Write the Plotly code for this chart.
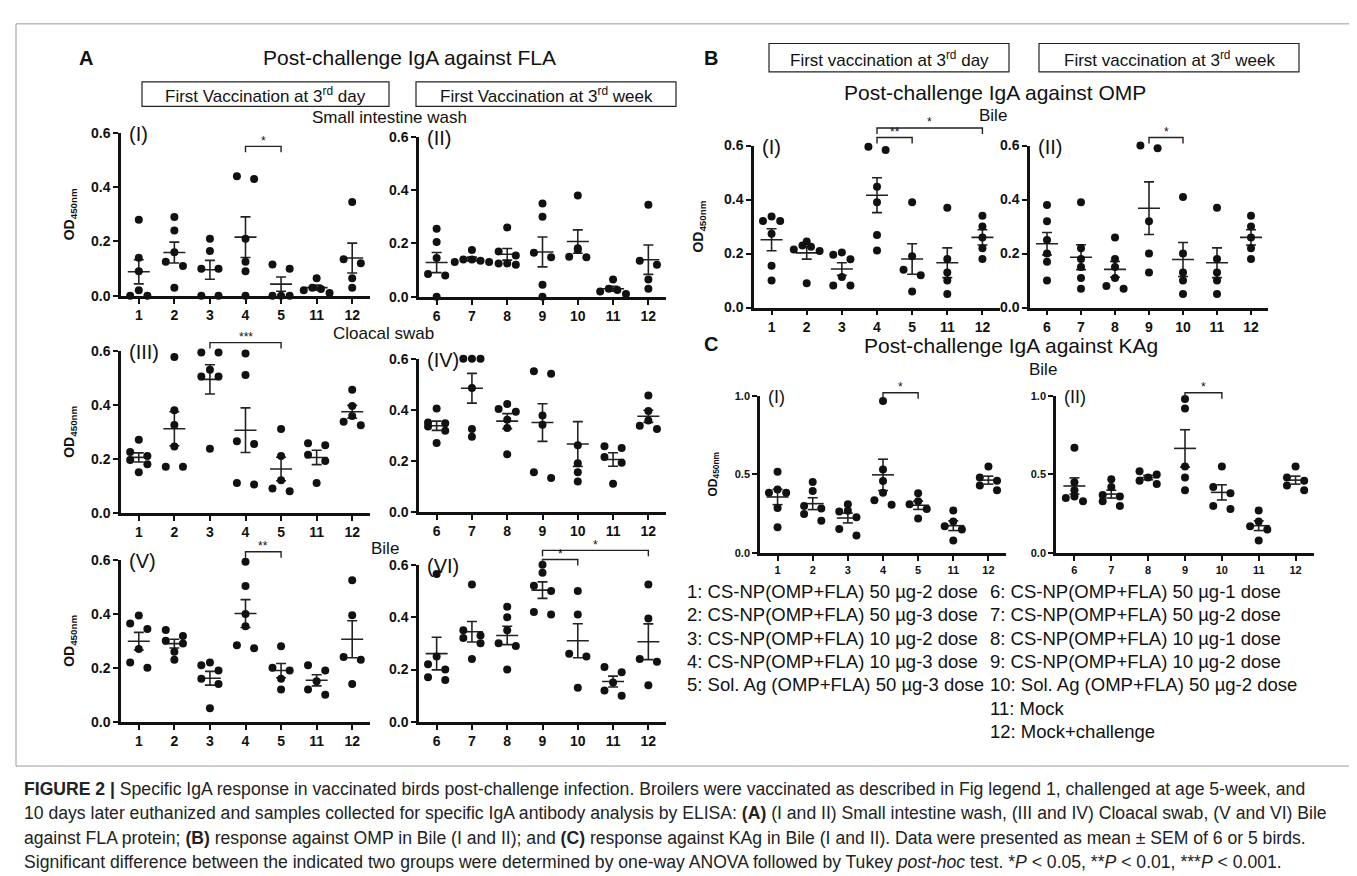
import numpy as np
import plotly.graph_objects as go

W, H = 1357, 876
FONT = "Arial, 'Liberation Sans', Helvetica, sans-serif"

# ---------------- data ----------------
GROUPS_DAY3 = ["1", "2", "3", "4", "5", "11", "12"]
GROUPS_WEEK3 = ["6", "7", "8", "9", "10", "11", "12"]

# Panel A - IgA against FLA, small intestine wash
SI_11 = [0.065, 0.03, 0.025, 0.02, 0.01]
SI_12 = [0.345, 0.135, 0.12, 0.065, 0.03]
SI_DAY3 = [
    [0.28, 0.14, 0.09, 0.02, 0.0, 0.0],
    [0.29, 0.24, 0.16, 0.125, 0.11, 0.03],
    [0.21, 0.165, 0.10, 0.10, 0.0, 0.0],
    [0.44, 0.43, 0.21, 0.125, 0.09, 0.0],
    [0.115, 0.10, 0.0, 0.0, 0.0],
    SI_11, SI_12]
SI_WEEK3 = [
    [0.255, 0.205, 0.145, 0.085, 0.08, 0.0],
    [0.175, 0.14, 0.14, 0.135, 0.13, 0.13],
    [0.26, 0.17, 0.155, 0.125, 0.125, 0.12],
    [0.35, 0.30, 0.165, 0.148, 0.045, 0.0],
    [0.38, 0.182, 0.175, 0.15, 0.148],
    SI_11, SI_12]

# Panel A - cloacal swab
CS_11 = [0.257, 0.25, 0.215, 0.192, 0.11]
CS_12 = [0.456, 0.395, 0.358, 0.337, 0.324]
CS_DAY3 = [
    [0.27, 0.225, 0.21, 0.195, 0.18, 0.15],
    [0.577, 0.38, 0.325, 0.245, 0.17, 0.17],
    [0.594, 0.594, 0.53, 0.505, 0.505, 0.237],
    [0.59, 0.51, 0.265, 0.255, 0.11, 0.105],
    [0.31, 0.21, 0.12, 0.09, 0.08],
    CS_11, CS_12]
CS_WEEK3 = [
    [0.405, 0.35, 0.347, 0.334, 0.317, 0.269],
    [0.6, 0.6, 0.6, 0.485, 0.324, 0.294],
    [0.422, 0.403, 0.392, 0.361, 0.328, 0.225],
    [0.551, 0.541, 0.377, 0.341, 0.155, 0.132],
    [0.603, 0.261, 0.19, 0.155, 0.119],
    CS_11, CS_12]

# Panel A - bile
BI_11 = [0.21, 0.19, 0.15, 0.12, 0.10]
BI_12 = [0.525, 0.395, 0.24, 0.23, 0.14]
BI_DAY3 = [
    [0.394, 0.364, 0.344, 0.27, 0.22, 0.20],
    [0.34, 0.318, 0.30, 0.29, 0.26, 0.23],
    [0.22, 0.21, 0.19, 0.16, 0.14, 0.05],
    [0.593, 0.503, 0.40, 0.354, 0.284, 0.273],
    [0.28, 0.20, 0.19, 0.16, 0.12],
    BI_11, BI_12]
BI_WEEK3 = [
    [0.565, 0.25, 0.22, 0.20, 0.17, 0.16],
    [0.525, 0.35, 0.33, 0.32, 0.30, 0.24],
    [0.44, 0.40, 0.35, 0.30, 0.29, 0.20],
    [0.60, 0.57, 0.52, 0.50, 0.42, 0.41],
    [0.50, 0.41, 0.26, 0.25, 0.13],
    BI_11, BI_12]

# Panel B - IgA against OMP, bile
OMP_11 = [0.37, 0.18, 0.13, 0.10, 0.05]
OMP_12 = [0.34, 0.30, 0.26, 0.22, 0.18]
OMP_DAY3 = [
    [0.337, 0.321, 0.321, 0.273, 0.155, 0.10],
    [0.245, 0.23, 0.225, 0.215, 0.21, 0.09],
    [0.204, 0.196, 0.179, 0.113, 0.082, 0.082],
    [0.596, 0.584, 0.448, 0.39, 0.269, 0.211],
    [0.39, 0.19, 0.14, 0.12, 0.06],
    OMP_11, OMP_12]
OMP_WEEK3 = [
    [0.38, 0.32, 0.25, 0.20, 0.17, 0.10],
    [0.39, 0.22, 0.18, 0.15, 0.11, 0.07],
    [0.26, 0.18, 0.15, 0.11, 0.08, 0.07],
    [0.60, 0.59, 0.32, 0.20, 0.13],
    [0.41, 0.20, 0.13, 0.10, 0.05],
    OMP_11, OMP_12]

# Panel C - IgA against KAg, bile
KAG_11 = [0.27, 0.20, 0.17, 0.15, 0.08]
KAG_12 = [0.55, 0.48, 0.46, 0.43, 0.40]
KAG_DAY3 = [
    [0.517, 0.405, 0.384, 0.384, 0.286, 0.164],
    [0.452, 0.395, 0.30, 0.284, 0.248, 0.206],
    [0.311, 0.269, 0.265, 0.227, 0.153, 0.111],
    [0.968, 0.532, 0.458, 0.384, 0.336, 0.307],
    [0.38, 0.33, 0.31, 0.28, 0.22],
    KAG_11, KAG_12]
KAG_WEEK3 = [
    [0.67, 0.45, 0.40, 0.36, 0.35, 0.33],
    [0.47, 0.42, 0.37, 0.36, 0.33, 0.30],
    [0.52, 0.50, 0.48, 0.46, 0.44],
    [0.98, 0.92, 0.55, 0.48, 0.40],
    [0.55, 0.42, 0.38, 0.30, 0.28],
    KAG_11, KAG_12]

LEGEND_LEFT = ["1: CS-NP(OMP+FLA) 50 µg-2 dose", "2: CS-NP(OMP+FLA) 50 µg-3 dose",
               "3: CS-NP(OMP+FLA) 10 µg-2 dose", "4: CS-NP(OMP+FLA) 10 µg-3 dose",
               "5: Sol. Ag (OMP+FLA) 50 µg-3 dose"]
LEGEND_RIGHT = ["6: CS-NP(OMP+FLA) 50 µg-1 dose", "7: CS-NP(OMP+FLA) 50 µg-2 dose",
                "8: CS-NP(OMP+FLA) 10 µg-1 dose", "9: CS-NP(OMP+FLA) 10 µg-2 dose",
                "10: Sol. Ag (OMP+FLA) 50 µg-2 dose", "11: Mock", "12: Mock+challenge"]

CAPTION = [
    "<b>FIGURE 2 |</b> Specific IgA response in vaccinated birds post-challenge infection. Broilers were vaccinated as described in Fig legend 1, challenged at age 5-week, and",
    "10 days later euthanized and samples collected for specific IgA antibody analysis by ELISA: <b>(A)</b> (I and II) Small intestine wash, (III and IV) Cloacal swab, (V and VI) Bile",
    "against FLA protein; <b>(B)</b> response against OMP in Bile (I and II); and <b>(C)</b> response against KAg in Bile (I and II). Data were presented as mean ± SEM of 6 or 5 birds.",
    "Significant difference between the indicated two groups were determined by one-way ANOVA followed by Tukey <i>post-hoc</i> test. *<i>P</i> &lt; 0.05, **<i>P</i> &lt; 0.01, ***<i>P</i> &lt; 0.001.",
]

# ---------------- layout of sub-panels (pixel boxes) ----------------
panels = [
    dict(cats=GROUPS_DAY3, data=SI_DAY3, x0=113, x1=362, yt=119, yb=285, top=0.6,
         yt_vals=[0, 0.2, 0.4, 0.6], roman="(I)", fs=14, odx=62, br=[("4", "5", 0.55, "*")]),
    dict(cats=GROUPS_WEEK3, data=SI_WEEK3, x0=411, x1=658, yt=123, yb=286, top=0.6,
         yt_vals=[0, 0.2, 0.4, 0.6], roman="(II)", fs=14, odx=None, br=[]),
    dict(cats=GROUPS_DAY3, data=CS_DAY3, x0=113, x1=362, yt=341, yb=506, top=0.6,
         yt_vals=[0, 0.2, 0.4, 0.6], roman="(III)", fs=14, odx=62, br=[("3", "5", 0.63, "***")]),
    dict(cats=GROUPS_WEEK3, data=CS_WEEK3, x0=411, x1=658, yt=349, yb=505, top=0.6,
         yt_vals=[0, 0.2, 0.4, 0.6], roman="(IV)", fs=14, odx=None, br=[]),
    dict(cats=GROUPS_DAY3, data=BI_DAY3, x0=113, x1=362, yt=554, yb=719, top=0.6,
         yt_vals=[0, 0.2, 0.4, 0.6], roman="(V)", fs=14, odx=62, br=[("4", "5", 0.63, "**")]),
    dict(cats=GROUPS_WEEK3, data=BI_WEEK3, x0=411, x1=658, yt=559, yb=719, top=0.6,
         yt_vals=[0, 0.2, 0.4, 0.6], roman="(VI)", fs=14, odx=None,
         br=[("9", "10", 0.62, "*"), ("9", "12", 0.655, "*")]),
    dict(cats=GROUPS_DAY3, data=OMP_DAY3, x0=746, x1=992, yt=132, yb=297, top=0.6,
         yt_vals=[0, 0.2, 0.4, 0.6], roman="(I)", fs=14, odx=691,
         br=[("4", "5", 0.63, "**"), ("4", "12", 0.665, "*")]),
    dict(cats=GROUPS_WEEK3, data=OMP_WEEK3, x0=1022, x1=1260, yt=132, yb=297, top=0.6,
         yt_vals=[0, 0.2, 0.4, 0.6], roman="(II)", fs=14, odx=None, br=[("9", "10", 0.63, "*")]),
    dict(cats=GROUPS_DAY3, data=KAG_DAY3, x0=752, x1=998, yt=387, yb=547, top=1.0,
         yt_vals=[0, 0.5, 1.0], roman="(I)", fs=11, odx=706, br=[("4", "5", 1.02, "*")]),
    dict(cats=GROUPS_WEEK3, data=KAG_WEEK3, x0=1048, x1=1306, yt=387, yb=547, top=1.0,
         yt_vals=[0, 0.5, 1.0], roman="(II)", fs=11, odx=None, br=[("9", "10", 1.02, "*")]),
]


def swarm(vals, ppu, d=7.5, s=8.6):
    """Column-scatter offsets (in px) for points that would overlap."""
    v = np.asarray(vals, float)
    idx = list(np.argsort(v))
    offs = np.zeros(len(v))
    bins, cur = [], [idx[0]]
    for i in idx[1:]:
        if (v[i] - v[cur[0]]) * ppu < d:
            cur.append(i)
        else:
            bins.append(cur)
            cur = [i]
    bins.append(cur)
    for b in bins:
        n = len(b)
        if n == 1:
            slots = [0.0]
        elif n == 2:
            slots = [-s, s]
        else:
            slots = [(k - (n - 1) / 2) * s for k in range(n)]
        slots = sorted(slots, key=lambda o: (abs(o), o))
        for i, o in zip(sorted(b, key=lambda i: -v[i]), slots):
            offs[i] = o
    return offs


fig = go.Figure()
lay = {}
shapes = []
ann = []


def px(x):
    return x / W


def py(y):
    return 1 - y / H


def text(x, y, t, size=16, bold=False, xanchor="center", angle=0, color="#111"):
    if bold:
        t = "<b>" + t + "</b>"
    ann.append(dict(x=px(x), y=py(y), xref="paper", yref="paper", text=t, showarrow=False,
                    xanchor=xanchor, yanchor="middle", textangle=angle,
                    font=dict(family=FONT, size=size, color=color)))


for k, p in enumerate(panels, start=1):
    xa = "x" if k == 1 else f"x{k}"
    ya = "y" if k == 1 else f"y{k}"
    n = len(p["cats"])
    wpx = p["x1"] - p["x0"]
    hpx = p["yb"] - p["yt"]
    upp = n / wpx
    ppu = hpx / p["top"]
    xs, ys, lx, ly = [], [], [], []
    for gi, vals in enumerate(p["data"]):
        offs = swarm(vals, ppu)
        xs += list(gi + offs * upp)
        ys += list(vals)
        m = float(np.mean(vals))
        se = float(np.std(vals, ddof=1) / np.sqrt(len(vals)))
        hw, cw = 11 * upp, 5 * upp
        lx += [gi - hw, gi + hw, None, gi, gi, None, gi - cw, gi + cw, None, gi - cw, gi + cw, None]
        ly += [m, m, None, m - se, m + se, None, m + se, m + se, None, m - se, m - se, None]
    fig.add_trace(go.Scatter(x=lx, y=ly, xaxis=xa, yaxis=ya, mode="lines",
                             line=dict(color="#222", width=1.6), hoverinfo="skip",
                             showlegend=False, cliponaxis=False))
    fig.add_trace(go.Scatter(x=xs, y=ys, xaxis=xa, yaxis=ya, mode="markers",
                             marker=dict(size=8, color="#111"), cliponaxis=False,
                             showlegend=False))
    kx = "xaxis" if k == 1 else f"xaxis{k}"
    ky = "yaxis" if k == 1 else f"yaxis{k}"
    lay[kx] = dict(domain=[px(p["x0"]), px(p["x1"])], anchor=ya, range=[-0.5, n - 0.5],
                   tickvals=list(range(n)), ticktext=[f"<b>{c}</b>" for c in p["cats"]],
                   showline=True, linecolor="#111", linewidth=2.5, ticks="outside",
                   ticklen=5, tickwidth=2, tickcolor="#111", showgrid=False, zeroline=False,
                   tickfont=dict(family=FONT, size=p["fs"], color="#111"), fixedrange=True)
    lay[ky] = dict(domain=[py(p["yb"]), py(p["yt"])], anchor=xa, range=[0, p["top"]],
                   tickvals=p["yt_vals"], ticktext=[f"<b>{t:.1f}</b>" for t in p["yt_vals"]],
                   showline=True, linecolor="#111", linewidth=2.5, ticks="outside",
                   ticklen=5, tickwidth=2, tickcolor="#111", showgrid=False, zeroline=False,
                   tickfont=dict(family=FONT, size=p["fs"], color="#111"), fixedrange=True)
    text(p["x0"] + 6, p["yt"] + 1, p["roman"], size=20 if p["fs"] > 12 else 18, xanchor="left")
    if p["odx"] is not None:
        text(p["odx"], (p["yt"] + p["yb"]) / 2, "OD<sub>450nm</sub>",
             size=14 if p["fs"] > 12 else 12, bold=True, angle=-90)
    for a, b, yv, stars in p["br"]:
        ia, ib = p["cats"].index(a), p["cats"].index(b)
        xa_px = p["x0"] + (ia + 0.5) * wpx / n
        xb_px = p["x0"] + (ib + 0.5) * wpx / n
        y_px = p["yb"] - yv * ppu
        shapes.append(dict(type="path", xref="paper", yref="paper",
                           path=f"M {px(xa_px)},{py(y_px + 6)} L {px(xa_px)},{py(y_px)} "
                                f"L {px(xb_px)},{py(y_px)} L {px(xb_px)},{py(y_px + 6)}",
                           line=dict(color="#222", width=1.4)))
        text((xa_px + xb_px) / 2, y_px - 6, stars, size=12)

# ---------------- headings / boxes ----------------
text(78, 43, "A", size=20, bold=True)
text(401, 42, "Post-challenge IgA against FLA", size=21)
for (x0, x1, y0, y1, t) in [(134, 381, 67, 92, "First Vaccination at 3<sup>rd</sup> day"),
                            (408, 668, 67, 92, "First Vaccination at 3<sup>rd</sup> week"),
                            (761, 1001, 28, 57, "First vaccination at 3<sup>rd</sup> day"),
                            (1031, 1291, 28, 57, "First vaccination at 3<sup>rd</sup> week")]:
    shapes.append(dict(type="rect", xref="paper", yref="paper", x0=px(x0), x1=px(x1),
                       y0=py(y1), y1=py(y0), line=dict(color="#222", width=1.2)))
    text((x0 + x1) / 2, (y0 + y1) / 2 + 1, t, size=17)
text(381, 103, "Small intestine wash", size=17)
text(375, 323, "Cloacal swab", size=17)
text(377, 542, "Bile", size=17)

text(703, 43, "B", size=20, bold=True)
text(987, 78, "Post-challenge IgA against OMP", size=21)
text(985, 101, "Bile", size=17)

text(703, 334, "C", size=20, bold=True)
text(1003, 336, "Post-challenge IgA against KAg", size=21)
text(1035, 360, "Bile", size=17)

for i, t in enumerate(LEGEND_LEFT):
    text(677, 586 + i * 23.8, t, size=18.5, xanchor="left")
for i, t in enumerate(LEGEND_RIGHT):
    text(980, 586 + i * 23.8, t, size=18.5, xanchor="left")

# frame
shapes.append(dict(type="rect", xref="paper", yref="paper", x0=px(8), x1=px(1349),
                   y0=py(764), y1=py(8), line=dict(color="#9a9a9a", width=1)))

for i, t in enumerate(CAPTION):
    text(14, 787 + i * 25, t, size=17.6, xanchor="left", color="#222")

fig.update_layout(width=W, height=H, margin=dict(l=0, r=0, t=0, b=0),
                  paper_bgcolor="white", plot_bgcolor="white", showlegend=False,
                  shapes=shapes, annotations=ann, font=dict(family=FONT, color="#111"),
                  **lay)
fig.write_html("out.html")
